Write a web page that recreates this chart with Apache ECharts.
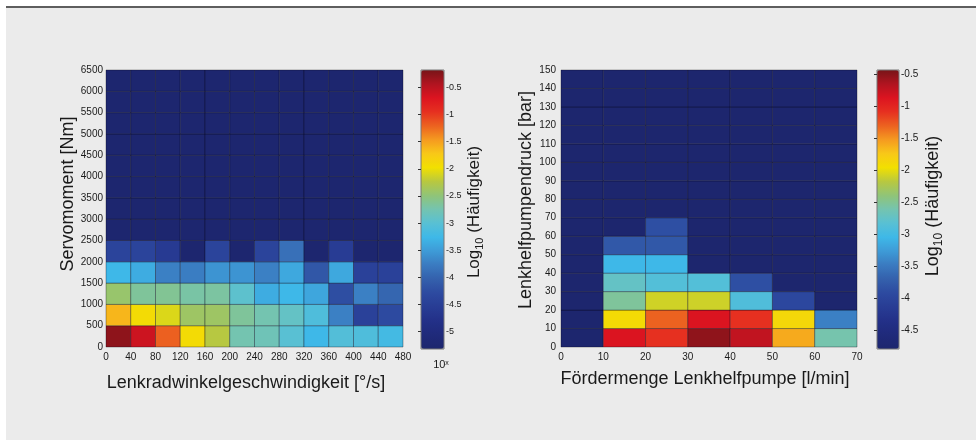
<!DOCTYPE html>
<html><head><meta charset="utf-8">
<script src="https://cdn.jsdelivr.net/npm/echarts@6/dist/echarts.min.js"></script>
<style>html,body{margin:0;padding:0;background:#fff}#c{width:976px;height:440px}</style>
</head><body><div id="c"></div>
<script>
// ---------- Left chart: Servomoment vs Lenkradwinkelgeschwindigkeit ----------
const leftXStarts = [0, 40, 80, 120, 160, 200, 240, 280, 320, 360, 400, 440];   // °/s bin starts
const leftYStarts = [0, 500, 1000, 1500, 2000, 2500, 3000, 3500, 4000, 4500, 5000, 5500, 6000]; // Nm bin starts
const leftBinW = 40, leftBinH = 500;
// log10(frequency), rows bottom (0-500 Nm) to top (6000-6500 Nm)
const leftRow0  = [-0.28, -0.60, -1.20, -1.93, -2.24, -2.75, -2.80, -3.00, -3.26, -3.06, -3.10, -3.20];
const leftRow1  = [-1.62, -1.93, -2.08, -2.40, -2.40, -2.65, -2.75, -2.90, -3.10, -3.73, -4.45, -4.30];
const leftRow2  = [-2.44, -2.65, -2.62, -2.70, -2.68, -2.96, -3.37, -3.26, -3.42, -4.24, -3.73, -3.98];
const leftRow3  = [-3.26, -3.37, -3.73, -3.75, -3.57, -3.57, -3.73, -3.40, -4.14, -3.40, -4.45, -4.45];
const leftRow4  = [-4.40, -4.40, -4.60, -5.30, -4.40, -5.30, -4.40, -3.88, -5.30, -4.55, -5.30, -5.30];
const leftRow5  = [-5.30, -5.30, -5.30, -5.30, -5.30, -5.30, -5.30, -5.30, -5.30, -5.30, -5.30, -5.30];
const leftRow6  = [-5.30, -5.30, -5.30, -5.30, -5.30, -5.30, -5.30, -5.30, -5.30, -5.30, -5.30, -5.30];
const leftRow7  = [-5.30, -5.30, -5.30, -5.30, -5.30, -5.30, -5.30, -5.30, -5.30, -5.30, -5.30, -5.30];
const leftRow8  = [-5.30, -5.30, -5.30, -5.30, -5.30, -5.30, -5.30, -5.30, -5.30, -5.30, -5.30, -5.30];
const leftRow9  = [-5.30, -5.30, -5.30, -5.30, -5.30, -5.30, -5.30, -5.30, -5.30, -5.30, -5.30, -5.30];
const leftRow10 = [-5.30, -5.30, -5.30, -5.30, -5.30, -5.30, -5.30, -5.30, -5.30, -5.30, -5.30, -5.30];
const leftRow11 = [-5.30, -5.30, -5.30, -5.30, -5.30, -5.30, -5.30, -5.30, -5.30, -5.30, -5.30, -5.30];
const leftRow12 = [-5.30, -5.30, -5.30, -5.30, -5.30, -5.30, -5.30, -5.30, -5.30, -5.30, -5.30, -5.30];
const leftRows = [leftRow0, leftRow1, leftRow2, leftRow3, leftRow4, leftRow5, leftRow6,
                  leftRow7, leftRow8, leftRow9, leftRow10, leftRow11, leftRow12];
const leftColorMin = -5.32, leftColorMax = -0.18;

// ---------- Right chart: Lenkhelfpumpendruck vs Fördermenge ----------
const rightXStarts = [0, 10, 20, 30, 40, 50, 60];  // l/min bin starts
const rightYStarts = [0, 10, 20, 30, 40, 50, 60, 70, 80, 90, 100, 110, 120, 130, 140]; // bar bin starts
const rightBinW = 10, rightBinH = 10;
const rightRow0  = [-4.78, -0.87, -1.09, -0.53, -0.74, -1.60, -2.60];
const rightRow1  = [-4.78, -1.92, -1.31, -0.87, -1.09, -1.88, -3.44];
const rightRow2  = [-4.78, -2.53, -2.09, -2.10, -2.90, -3.96, -4.78];
const rightRow3  = [-4.78, -2.74, -2.87, -2.87, -3.87, -4.78, -4.78];
const rightRow4  = [-4.78, -3.05, -3.05, -4.78, -4.78, -4.78, -4.78];
const rightRow5  = [-4.78, -3.78, -3.78, -4.78, -4.78, -4.78, -4.78];
const rightRow6  = [-4.78, -4.78, -3.87, -4.78, -4.78, -4.78, -4.78];
const rightRow7  = [-4.78, -4.78, -4.78, -4.78, -4.78, -4.78, -4.78];
const rightRow8  = [-4.78, -4.78, -4.78, -4.78, -4.78, -4.78, -4.78];
const rightRow9  = [-4.78, -4.78, -4.78, -4.78, -4.78, -4.78, -4.78];
const rightRow10 = [-4.78, -4.78, -4.78, -4.78, -4.78, -4.78, -4.78];
const rightRow11 = [-4.78, -4.78, -4.78, -4.78, -4.78, -4.78, -4.78];
const rightRow12 = [-4.78, -4.78, -4.78, -4.78, -4.78, -4.78, -4.78];
const rightRow13 = [-4.78, -4.78, -4.78, -4.78, -4.78, -4.78, -4.78];
const rightRow14 = [-4.78, -4.78, -4.78, -4.78, -4.78, -4.78, -4.78];
const rightRows = [rightRow0, rightRow1, rightRow2, rightRow3, rightRow4, rightRow5, rightRow6, rightRow7,
                   rightRow8, rightRow9, rightRow10, rightRow11, rightRow12, rightRow13, rightRow14];
const rightColorMin = -4.785, rightColorMax = -0.44;

// ---------- texts ----------
const leftXTitle = 'Lenkradwinkelgeschwindigkeit [°/s]';
const leftYTitle = 'Servomoment [Nm]';
const rightXTitle = 'Fördermenge Lenkhelfpumpe [l/min]';
const rightYTitle = 'Lenkhelfpumpendruck [bar]';

// jet-like colour map (print tones)
const jet = ['#1d266e','#1f2a7a','#233088','#283c94','#2d4aa0','#3460ac','#3a7ac0','#3e9ad6',
             '#3eb8e8','#58c0d4','#74c4b0','#90c478','#b8c840','#f2e000','#f8c818','#f59a20',
             '#ec6220','#e63020','#dc1420','#b01420','#781418'];

const FF = '"Liberation Sans", Arial, Helvetica, sans-serif';

function toData(rows, xs, ys) {
  const out = [];
  rows.forEach((row, j) => row.forEach((v, i) => out.push([xs[i], ys[j], v])));
  return out;
}
function cellRenderer(bw, bh) {
  return function (params, api) {
    const x0 = api.value(0), y0 = api.value(1);
    const p0 = api.coord([x0, y0]);
    const p1 = api.coord([x0 + bw, y0 + bh]);
    return {
      type: 'rect',
      shape: { x: p0[0], y: p1[1], width: p1[0] - p0[0], height: p0[1] - p1[1] },
      style: { fill: api.visual('color'), stroke: 'rgba(10,10,30,0.35)', lineWidth: 1 }
    };
  };
}

const plain = v => String(v);
const tickLabel = { fontFamily: FF, fontSize: 10, color: '#1a1a1a', formatter: plain };
function mainAxis(gi, min, max, interval, margin) {
  return {
    gridIndex: gi, type: 'value', min: min, max: max, interval: interval,
    axisLine: { show: false }, axisTick: { show: false }, splitLine: { show: false },
    axisLabel: Object.assign({ margin: margin }, tickLabel)
  };
}
function cbAxis(gi, min, max, split, fs) {
  return {
    gridIndex: gi, type: 'value', min: min, max: max, splitNumber: split, position: 'right', z: 10,
    axisLine: { show: false }, splitLine: { show: false },
    axisTick: { show: true, inside: true, length: 3, lineStyle: { color: '#333', width: 1 } },
    axisLabel: { margin: 2, fontFamily: FF, fontSize: fs, color: '#1a1a1a', showMinLabel: false, showMaxLabel: false, formatter: plain }
  };
}

const chart = echarts.init(document.getElementById('c'), null, { renderer: 'canvas' });
chart.setOption({
  backgroundColor: '#ffffff',
  animation: false,
  grid: [
    { left: 106, top: 70, width: 297, height: 277, show: true, borderColor: '#a0a0a0', borderWidth: 1, backgroundColor: 'transparent' },
    { left: 421, top: 70, width: 23, height: 279, show: true, borderColor: '#777', borderWidth: 1, backgroundColor: 'transparent', z: 6 },
    { left: 561, top: 70, width: 296, height: 277, show: true, borderColor: '#a0a0a0', borderWidth: 1, backgroundColor: 'transparent' },
    { left: 877, top: 70, width: 22, height: 279, show: true, borderColor: '#777', borderWidth: 1, backgroundColor: 'transparent', z: 6 }
  ],
  xAxis: [
    mainAxis(0, 0, 480, 40, 5),
    { gridIndex: 1, type: 'value', show: false, min: 0, max: 1 },
    mainAxis(2, 0, 70, 10, 5),
    { gridIndex: 3, type: 'value', show: false, min: 0, max: 1 }
  ],
  yAxis: [
    mainAxis(0, 0, 6500, 500, 3),
    cbAxis(1, leftColorMin, leftColorMax, 10, 9),
    mainAxis(2, 0, 150, 10, 5),
    cbAxis(3, rightColorMin, rightColorMax, 9, 10)
  ],
  visualMap: [
    { type: 'continuous', seriesIndex: 0, dimension: 2, min: leftColorMin, max: leftColorMax,
      inRange: { color: jet }, calculable: false, left: 421, top: 70, itemWidth: 23, itemHeight: 279, padding: 0, z: 4 },
    { type: 'continuous', seriesIndex: 1, dimension: 2, min: rightColorMin, max: rightColorMax,
      inRange: { color: jet }, calculable: false, left: 877, top: 70, itemWidth: 22, itemHeight: 279, padding: 0, z: 4 }
  ],
  series: [
    { type: 'custom', xAxisIndex: 0, yAxisIndex: 0, renderItem: cellRenderer(leftBinW, leftBinH),
      encode: { x: 0, y: 1 }, data: toData(leftRows, leftXStarts, leftYStarts), clip: true },
    { type: 'custom', xAxisIndex: 2, yAxisIndex: 2, renderItem: cellRenderer(rightBinW, rightBinH),
      encode: { x: 0, y: 1 }, data: toData(rightRows, rightXStarts, rightYStarts), clip: true }
  ],
  graphic: [
    { type: 'rect', z: -10, shape: { x: 6, y: 6, width: 970, height: 434 }, style: { fill: '#ebebeb' } },
    { type: 'rect', z: -9, shape: { x: 6, y: 6, width: 970, height: 2 }, style: { fill: '#5e5e5e' } },
    { type: 'text', x: 246, y: 383, style: { text: leftXTitle, font: '18px ' + FF, fill: '#1a1a1a', align: 'center', verticalAlign: 'middle' } },
    { type: 'text', x: 68, y: 194, rotation: Math.PI / 2, style: { text: leftYTitle, font: '18px ' + FF, fill: '#1a1a1a', align: 'center', verticalAlign: 'middle' } },
    { type: 'text', x: 705, y: 379, style: { text: rightXTitle, font: '18px ' + FF, fill: '#1a1a1a', align: 'center', verticalAlign: 'middle' } },
    { type: 'text', x: 526, y: 200, rotation: Math.PI / 2, style: { text: rightYTitle, font: '18px ' + FF, fill: '#1a1a1a', align: 'center', verticalAlign: 'middle' } },
    { type: 'text', x: 476, y: 212, rotation: Math.PI / 2, style: {
        text: '{a|Log}{s|10}{a| (Häufigkeit)}', align: 'center', verticalAlign: 'middle',
        rich: { a: { fontFamily: FF, fontSize: 17, lineHeight: 20, fill: '#1a1a1a', verticalAlign: 'top' },
                s: { fontFamily: FF, fontSize: 11, lineHeight: 11, padding: [8, 0, 0, 0], fill: '#1a1a1a', verticalAlign: 'top' } } } },
    { type: 'text', x: 935, y: 206, rotation: Math.PI / 2, style: {
        text: '{a|Log}{s|10}{a| (Häufigkeit)}', align: 'center', verticalAlign: 'middle',
        rich: { a: { fontFamily: FF, fontSize: 18, lineHeight: 21, fill: '#1a1a1a', verticalAlign: 'top' },
                s: { fontFamily: FF, fontSize: 12, lineHeight: 12, padding: [8, 0, 0, 0], fill: '#1a1a1a', verticalAlign: 'top' } } } },
    { type: 'text', x: 441, y: 366, style: {
        text: '{a|10}{b|x}', align: 'center', verticalAlign: 'middle',
        rich: { a: { fontFamily: FF, fontSize: 11, lineHeight: 13, fill: '#1a1a1a', verticalAlign: 'top' },
                b: { fontFamily: FF, fontSize: 7, lineHeight: 7, fill: '#1a1a1a', verticalAlign: 'top' } } } }
  ]
});
</script></body></html>
